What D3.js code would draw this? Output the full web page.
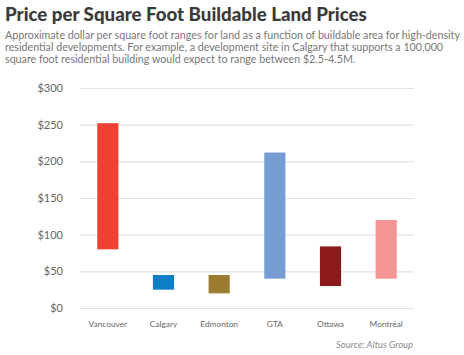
<!DOCTYPE html>
<html><head><meta charset="utf-8">
<script src="https://cdn.jsdelivr.net/npm/d3@7"></script>
<style>
html,body{margin:0;padding:0;background:#fff;}
svg{display:block;font-family:Lato,"Open Sans",sans-serif;}
</style></head>
<body>
<script>
const categories = ["Vancouver","Calgary","Edmonton","GTA","Ottawa","Montréal"];
const lowValues = [80,25,20,40,30,40];
const highValues = [252,45,45,212,84,120];
const barColors = ["#ee4131","#0f7dc5","#9b7b2f","#759dd3","#8b1a1d","#f49696"];
const yTicks = [0,50,100,150,200,250,300];
const titleText = "Price per Square Foot Buildable Land Prices";
const subtitleLines = [
  "Approximate dollar per square foot ranges for land as a function of buildable area for high-density",
  "residential developments. For example, a development site in Calgary that supports a 100,000",
  "square foot residential building would expect to range between $2.5-4.5M."
];
const sourceText = "Source: Altus Group";

const W = 464, H = 355;
const svg = d3.select("body").append("svg").attr("width", W).attr("height", H);

svg.append("text").attr("x", 5).attr("y", 21)
  .attr("font-size", 18.7).attr("font-weight", 900).attr("fill", "#3a3a3a")
  .text(titleText);

svg.append("g").selectAll("text").data(subtitleLines).join("text")
  .attr("x", 5).attr("y", (d, i) => 38.5 + i * 12)
  .attr("font-size", 10.7).attr("fill", "#777")
  .text(d => d);

const x = d3.scaleBand().domain(categories).range([80, 414]).paddingInner(0.62).paddingOuter(0.31);
const y = d3.scaleLinear().domain([0, 300]).range([308, 88]);

const yAxis = svg.append("g").attr("transform", "translate(80,0)")
  .call(d3.axisLeft(y).tickValues(yTicks).tickSize(-334).tickPadding(17).tickFormat(d => "$" + d));
yAxis.select(".domain").remove();
yAxis.selectAll(".tick line").attr("stroke", "#e2e2e2").attr("stroke-width", 1.2);
yAxis.selectAll(".tick text").attr("fill", "#666").attr("font-size", 11).attr("font-family", "Lato,sans-serif");

svg.append("g").selectAll("rect").data(categories).join("rect")
  .attr("x", d => x(d))
  .attr("width", x.bandwidth())
  .attr("y", (d, i) => y(highValues[i]))
  .attr("height", (d, i) => y(lowValues[i]) - y(highValues[i]))
  .attr("fill", (d, i) => barColors[i]);

const xAxis = svg.append("g").attr("transform", "translate(0,308)")
  .call(d3.axisBottom(x).tickSize(0).tickPadding(13));
xAxis.select(".domain").remove();
xAxis.selectAll(".tick text").attr("fill", "#666").attr("font-size", 8.3).attr("font-family", "Lato,sans-serif");

svg.append("text").attr("x", 413).attr("y", 347.5).attr("text-anchor", "end")
  .attr("font-size", 9.4).attr("font-style", "italic").attr("fill", "#8a8a8a")
  .text(sourceText);
</script>
</body></html>
